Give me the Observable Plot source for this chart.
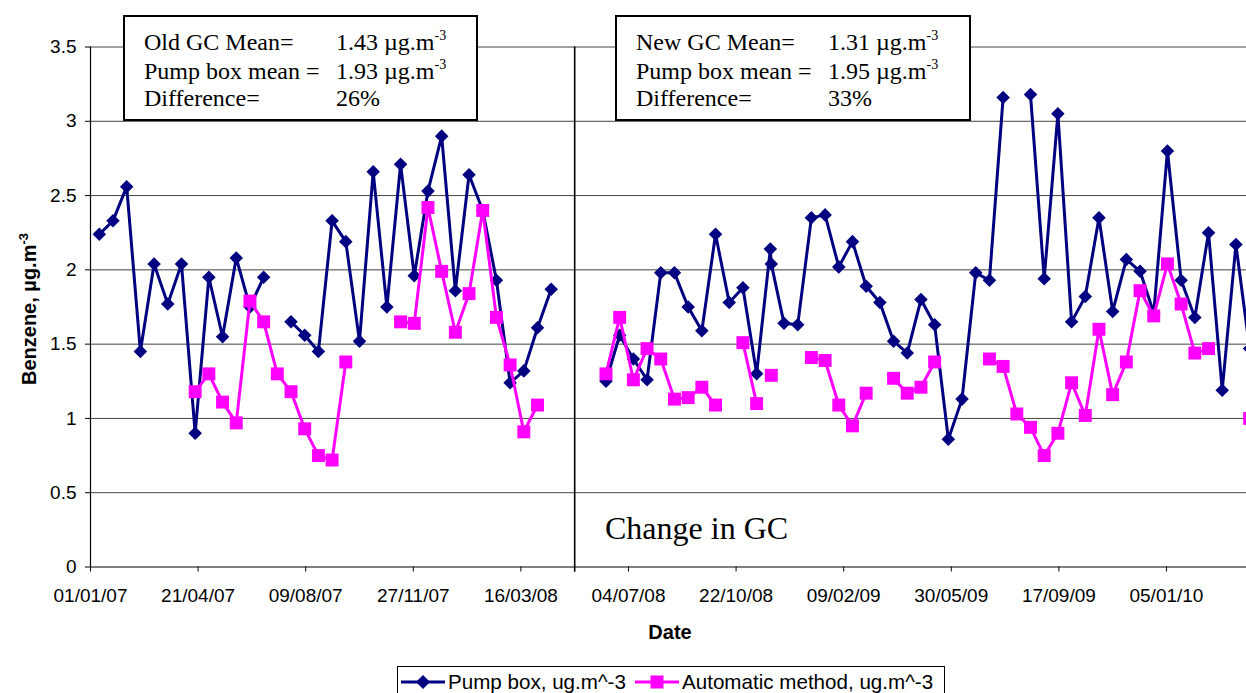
<!DOCTYPE html>
<html><head><meta charset="utf-8">
<script src="https://cdn.jsdelivr.net/npm/d3@7"></script>
<script src="https://cdn.jsdelivr.net/npm/@observablehq/plot@0.6"></script>
<style>
html,body{margin:0;padding:0;background:#fff;overflow:hidden;}
#wrap{position:relative;width:1246px;height:693px;overflow:hidden;background:#fff;}
#wrap > svg{display:block;max-width:none !important;}
.box{position:absolute;border:2px solid #000;background:#fff;font-family:"Liberation Serif","Times New Roman",serif;font-size:24px;color:#000;box-sizing:border-box;}
.box .lab,.box .val{position:absolute;white-space:nowrap;line-height:24px;}
.box sup{font-size:14px;vertical-align:0;position:relative;top:-10px;}
#note{position:absolute;font-family:"Liberation Serif","Times New Roman",serif;font-size:32px;line-height:32px;white-space:nowrap;color:#000;}
#legend{position:absolute;left:397px;top:666px;width:548px;height:34px;border:1px solid #000;box-sizing:border-box;background:#fff;font-family:"Liberation Sans",Arial,sans-serif;font-size:20.6px;color:#000;}
#legend .item{position:absolute;top:3px;height:24px;display:flex;align-items:center;white-space:nowrap;}
#legend svg{display:block;}
</style>
</head><body>
<div id="wrap"></div>
<script>
// ---- data ----
const tickLabels = ["01/01/07","21/04/07","09/08/07","27/11/07","16/03/08","04/07/08","22/10/08","09/02/09","30/05/09","17/09/09","05/01/10"];
const yTicks = [0, 0.5, 1, 1.5, 2, 2.5, 3, 3.5];
const gcChangeDate = "2008-05-10";
const seriesNames = ["Pump box, ug.m^-3", "Automatic method, ug.m^-3"];
const sampleDates = [
 "2007-01-10","2007-01-24","2007-02-07","2007-02-21","2007-03-07","2007-03-21","2007-04-04","2007-04-18","2007-05-02","2007-05-16",
 "2007-05-30","2007-06-13","2007-06-27","2007-07-11","2007-07-25","2007-08-08","2007-08-22","2007-09-05","2007-09-19","2007-10-03",
 "2007-10-17","2007-10-31","2007-11-14","2007-11-28","2007-12-12","2007-12-26","2008-01-09","2008-01-23","2008-02-06","2008-02-20",
 "2008-03-05","2008-03-19","2008-04-02","2008-04-16","2008-04-30","2008-05-14","2008-05-28","2008-06-11","2008-06-25","2008-07-09",
 "2008-07-23","2008-08-06","2008-08-20","2008-09-03","2008-09-17","2008-10-01","2008-10-15","2008-10-29","2008-11-12","2008-11-26",
 "2008-11-27",
 "2008-12-10","2008-12-24","2009-01-07","2009-01-21","2009-02-04","2009-02-18","2009-03-04","2009-03-18","2009-04-01","2009-04-15",
 "2009-04-29","2009-05-13","2009-05-27","2009-06-10","2009-06-24","2009-07-08","2009-07-22","2009-08-05","2009-08-19","2009-09-02",
 "2009-09-16","2009-09-30","2009-10-14","2009-10-28","2009-11-11","2009-11-25","2009-12-09","2009-12-23","2010-01-06","2010-01-20",
 "2010-02-03","2010-02-17","2010-03-03","2010-03-17","2010-03-31"
];
const pumpBox = [
 2.24, 2.33, 2.56, 1.45, 2.04, 1.77, 2.04, 0.90, 1.95, 1.55,
 2.08, 1.75, 1.95, null, 1.65, 1.56, 1.45, 2.33, 2.19, 1.52,
 2.66, 1.75, 2.71, 1.96, 2.53, 2.90, 1.86, 2.64, 2.40, 1.93,
 1.24, 1.32, 1.61, 1.87, null, null, null, 1.25, 1.56, 1.40,
 1.26, 1.98, 1.98, 1.75, 1.59, 2.24, 1.78, 1.88, 1.30, 2.14,
 2.04,
 1.64, 1.63, 2.35, 2.37, 2.02, 2.19, 1.89, 1.78, 1.52, 1.44,
 1.80, 1.63, 0.86, 1.13, 1.98, 1.93, 3.16, null, 3.18, 1.94,
 3.05, 1.65, 1.82, 2.35, 1.72, 2.07, 1.99, 1.71, 2.80, 1.93,
 1.68, 2.25, 1.19, 2.17, 1.47
];
const automatic = [
 null, null, null, null, null, null, null, 1.18, 1.30, 1.11,
 0.97, 1.79, 1.65, 1.30, 1.18, 0.93, 0.75, 0.72, 1.38, null,
 null, null, 1.65, 1.64, 2.42, 1.99, 1.58, 1.84, 2.40, 1.68,
 1.36, 0.91, 1.09, null, null, null, null, 1.30, 1.68, 1.26,
 1.47, 1.40, 1.13, 1.14, 1.21, 1.09, null, 1.51, 1.10, null,
 1.29,
 null, null, 1.41, 1.39, 1.09, 0.95, 1.17, null, 1.27, 1.17,
 1.21, 1.38, null, null, null, 1.40, 1.35, 1.03, 0.94, 0.75,
 0.90, 1.24, 1.02, 1.60, 1.16, 1.38, 1.86, 1.69, 2.04, 1.77,
 1.44, 1.47, null, null, 1.00
];

// ---- build ----
const parseISO = d3.utcParse("%Y-%m-%d");
const parseDMY = d3.utcParse("%d/%m/%y");
const tickDates = tickLabels.map(parseDMY);
const xStart = parseISO("2007-01-01");
const xEnd = parseISO("2010-04-05");
const rows = sampleDates.map((d, i) => ({date: parseISO(d), pump: pumpBox[i], auto: automatic[i]}));
const navy = "#000080", magenta = "#ff00ff";

const chart = Plot.plot({
  width: 1254, height: 660,
  marginLeft: 90, marginRight: 0, marginTop: 46.5, marginBottom: 93.5,
  style: {fontFamily: "'Liberation Sans', Arial, sans-serif", fontSize: "19px", color: "#000", background: "#fff", overflow: "visible", maxWidth: "none"},
  x: {type: "utc", domain: [xStart, xEnd]},
  y: {domain: [0, 3.5]},
  marks: [
    Plot.ruleY(yTicks.filter(v => v > 0), {stroke: "#444", strokeWidth: 1}),
    Plot.ruleX([parseISO(gcChangeDate)], {y1: -0.035, y2: 3.5, stroke: "#000", strokeWidth: 1.6}),
    Plot.axisY({ticks: yTicks, tickSize: 5, tickPadding: 9, tickFormat: d => String(d), label: null, fontSize: 19}),
    Plot.axisX({ticks: tickDates, tickSize: 5, tickPadding: 16, label: null, fontSize: 19,
      tickFormat: d => tickLabels[tickDates.findIndex(t => +t === +d)]}),
    Plot.ruleY([0], {stroke: "#000", strokeWidth: 1.2}),
    Plot.ruleX([xStart], {y1: 0, y2: 3.5, stroke: "#000", strokeWidth: 1.2}),
    Plot.line(rows, {x: "date", y: "pump", stroke: navy, strokeWidth: 3}),
    Plot.dot(rows, {x: "date", y: "pump", symbol: "square", rotate: 45, r: 5.4, fill: navy, stroke: "none"}),
    Plot.line(rows, {x: "date", y: "auto", stroke: magenta, strokeWidth: 3}),
    Plot.dot(rows, {x: "date", y: "auto", symbol: "square", r: 7.3, fill: magenta, stroke: "none"})
  ]
});
chart.style.maxWidth = "none";

const svg = d3.select(chart);
const yt = svg.append("text")
  .attr("transform", "translate(36,309) rotate(-90)")
  .attr("text-anchor", "middle")
  .attr("font-weight", "bold").attr("font-size", 20).attr("fill", "#000")
  .attr("font-family", "'Liberation Sans', Arial, sans-serif");
yt.append("tspan").text("Benzene, µg.m");
yt.append("tspan").attr("font-size", 13).attr("dy", -8).text("-3");
svg.append("text")
  .attr("x", 670).attr("y", 639)
  .attr("text-anchor", "middle")
  .attr("font-weight", "bold").attr("font-size", 20).attr("fill", "#000")
  .attr("font-family", "'Liberation Sans', Arial, sans-serif")
  .text("Date");

const wrap = document.getElementById("wrap");
wrap.appendChild(chart);

// annotation boxes
const boxes = [
  {left: 123, width: 355, rows: [["Old GC Mean=", "1.43 µg.m", "-3"], ["Pump box mean =", "1.93 µg.m", "-3"], ["Difference=", "26%", ""]]},
  {left: 615, width: 356, rows: [["New GC Mean=", "1.31 µg.m", "-3"], ["Pump box mean =", "1.95 µg.m", "-3"], ["Difference=", "33%", ""]]}
];
const rowTops = [13, 42, 69];
boxes.forEach(b => {
  const div = document.createElement("div");
  div.className = "box";
  div.style.left = b.left + "px"; div.style.top = "15px";
  div.style.width = b.width + "px"; div.style.height = "106px";
  b.rows.forEach((r, i) => {
    const l = document.createElement("div");
    l.className = "lab"; l.style.left = "19px"; l.style.top = rowTops[i] + "px"; l.textContent = r[0];
    const v = document.createElement("div");
    v.className = "val"; v.style.left = "211px"; v.style.top = rowTops[i] + "px";
    v.textContent = r[1];
    if (r[2]) { const s = document.createElement("sup"); s.textContent = r[2]; v.appendChild(s); }
    div.appendChild(l); div.appendChild(v);
  });
  wrap.appendChild(div);
});

const note = document.createElement("div");
note.id = "note"; note.style.left = "605px"; note.style.top = "512px";
note.textContent = "Change in GC";
wrap.appendChild(note);

// legend
const legend = document.createElement("div");
legend.id = "legend";
const legItems = [
  {x: 1, name: seriesNames[0], color: navy, shape: "diamond"},
  {x: 235, name: seriesNames[1], color: magenta, shape: "square"}
];
legItems.forEach(it => {
  const d = document.createElement("div");
  d.className = "item"; d.style.left = it.x + "px";
  const s = d3.create("svg").attr("width", 48).attr("height", 20);
  s.append("line").attr("x1", 2).attr("x2", 46).attr("y1", 10).attr("y2", 10).attr("stroke", it.color).attr("stroke-width", 3);
  if (it.shape === "diamond") s.append("path").attr("d", "M24,3L31,10L24,17L17,10Z").attr("fill", it.color);
  else s.append("rect").attr("x", 17.5).attr("y", 3.5).attr("width", 13).attr("height", 13).attr("fill", it.color);
  d.appendChild(s.node());
  const t = document.createElement("span"); t.textContent = it.name; t.style.marginLeft = "1px";
  d.appendChild(t);
  legend.appendChild(d);
});
wrap.appendChild(legend);
</script>
</body></html>
